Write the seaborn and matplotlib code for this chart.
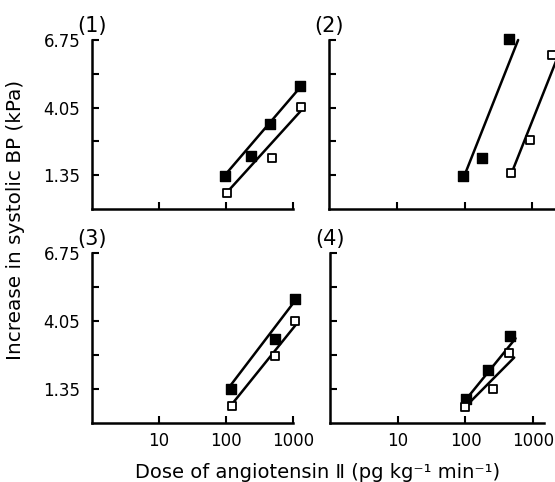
import numpy as np
import pandas as pd
import matplotlib.pyplot as plt
import seaborn as sns

sns.set_style("ticks")
plt.rcParams["font.family"] = ["DejaVu Sans"]
plt.rcParams["text.color"] = "black"
plt.rcParams["xtick.color"] = "black"
plt.rcParams["ytick.color"] = "black"
plt.rcParams["axes.edgecolor"] = "black"

# ---- data (dose in pg/kg/min, BP rise in kPa) ----
p1_dose_filled = [97, 237, 455, 1260]
p1_bp_filled = [1.31, 2.10, 3.41, 4.92]
p1_dose_open = [103, 485, 1320]
p1_bp_open = [0.64, 2.03, 4.09]
p1_fit_dose_filled = [102, 1260]
p1_fit_bp_filled = [1.43, 4.84]
p1_fit_dose_open = [107, 1320]
p1_fit_bp_open = [0.71, 3.93]

p2_dose_filled = [95, 182, 457]
p2_bp_filled = [1.31, 2.03, 6.79]
p2_dose_open = [490, 930, 1960]
p2_bp_open = [1.43, 2.74, 6.15]
p2_fit_dose_filled = [100, 617]
p2_fit_bp_filled = [1.35, 6.75]
p2_fit_dose_open = [500, 2800]
p2_fit_bp_open = [1.47, 6.57]

p3_dose_filled = [118, 540, 1070]
p3_bp_filled = [1.35, 3.32, 4.92]
p3_dose_open = [123, 540, 1070]
p3_bp_open = [0.68, 2.68, 4.04]
p3_fit_dose_filled = [107, 1150]
p3_fit_bp_filled = [1.36, 4.96]
p3_fit_dose_open = [117, 1150]
p3_fit_bp_open = [0.68, 3.96]

p4_dose_filled = [102, 213, 460]
p4_bp_filled = [0.96, 2.12, 3.44]
p4_dose_open = [100, 252, 445]
p4_bp_open = [0.64, 1.36, 2.76]
p4_fit_dose_filled = [98, 550]
p4_fit_bp_filled = [0.88, 3.36]
p4_fit_dose_open = [110, 525]
p4_fit_bp_open = [0.76, 2.60]

y_ticks = [1.35, 2.7, 4.05, 5.4, 6.75]
y_tick_labels = ["1.35", "", "4.05", "", "6.75"]
x_ticks = [10, 100, 1000]
x_tick_labels = ["10", "100", "1000"]

panels = [
    ("(1)", p1_dose_filled, p1_bp_filled, p1_dose_open, p1_bp_open,
     p1_fit_dose_filled, p1_fit_bp_filled, p1_fit_dose_open, p1_fit_bp_open),
    ("(2)", p2_dose_filled, p2_bp_filled, p2_dose_open, p2_bp_open,
     p2_fit_dose_filled, p2_fit_bp_filled, p2_fit_dose_open, p2_fit_bp_open),
    ("(3)", p3_dose_filled, p3_bp_filled, p3_dose_open, p3_bp_open,
     p3_fit_dose_filled, p3_fit_bp_filled, p3_fit_dose_open, p3_fit_bp_open),
    ("(4)", p4_dose_filled, p4_bp_filled, p4_dose_open, p4_bp_open,
     p4_fit_dose_filled, p4_fit_bp_filled, p4_fit_dose_open, p4_fit_bp_open),
]

W, H = 555, 482
fig = plt.figure(figsize=(W / 100, H / 100), dpi=100)

# axes boxes in pixels: left, bottom(y from top), width, height, log10 xmax
boxes = [
    (92, 209, 201, 169, 3.0),
    (329, 209, 244, 169, 3.6),
    (92, 423, 201, 170, 3.0),
    (330, 423, 214, 170, 3.16),
]

for i, (box, panel) in enumerate(zip(boxes, panels)):
    left, bottom, width, height, xmax = box
    ax = fig.add_axes([left / W, 1 - bottom / H, width / W, height / H])
    (label, xf, yf, xo, yo, lxf, lyf, lxo, lyo) = panel

    sns.lineplot(x=lxf, y=lyf, ax=ax, color="black", linewidth=1.8,
                 estimator=None, sort=False)
    sns.lineplot(x=lxo, y=lyo, ax=ax, color="black", linewidth=1.8,
                 estimator=None, sort=False)
    sns.scatterplot(x=xf, y=yf, ax=ax, marker="s", s=48, color="black",
                    edgecolor="black", linewidth=1.0, zorder=5, clip_on=False)
    sns.scatterplot(x=xo, y=yo, ax=ax, marker="s", s=40, color="white",
                    edgecolor="black", linewidth=1.3, zorder=5, clip_on=False)

    ax.set_xscale("log")
    ax.set_xlim(1, 10 ** xmax)
    ax.set_ylim(0, 6.75)
    ax.set_xticks(x_ticks)
    ax.minorticks_off()
    ax.set_yticks(y_ticks)
    for ln in ax.get_lines():
        ln.set_clip_on(False)

    if i >= 2:
        ax.set_xticklabels(x_tick_labels, fontsize=12)
    else:
        ax.set_xticklabels([])
    if i % 2 == 0:
        ax.set_yticklabels(y_tick_labels, fontsize=12)
    else:
        ax.set_yticklabels([])

    ax.tick_params(direction="in", length=5, width=1.5)
    ax.tick_params(axis="x", pad=6.5)
    ax.tick_params(axis="y", pad=8.5)
    sns.despine(ax=ax)
    for side in ["left", "bottom"]:
        ax.spines[side].set_linewidth(1.8)
    ax.set_xlabel("")
    ax.set_ylabel("")
    ax.annotate(label, xy=(0.0, 1.0), xycoords="axes fraction",
                xytext=(0, 3), textcoords="offset points",
                fontsize=15, ha="center", va="bottom")

fig.text(318 / W, 1 - 478 / H,
         "Dose of angiotensin \u2161 (pg kg\u207b\u00b9 min\u207b\u00b9)",
         ha="center", va="baseline", fontsize=14)
fig.text(16 / W, 1 - 220 / H, "Increase in systolic BP (kPa)",
         ha="center", va="center", rotation=90, fontsize=14.4)

fig.savefig("out.png", dpi=100)
